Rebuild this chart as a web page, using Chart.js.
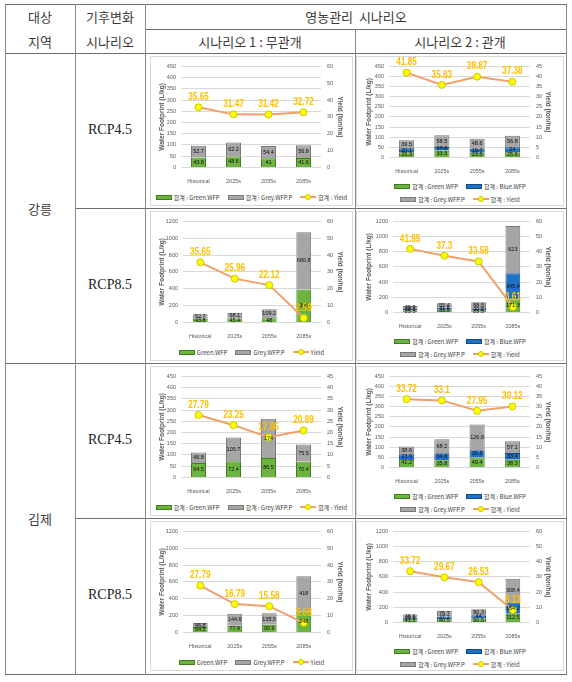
<!DOCTYPE html>
<html>
<head>
<meta charset="utf-8">
<script src="https://cdn.jsdelivr.net/npm/chart.js@4.4.0/dist/chart.umd.min.js"></script>
<style>
body{margin:0;background:#fff;font-family:"Noto Sans CJK KR",sans-serif;}
#page{position:relative;width:572px;height:682px;overflow:hidden;}
.hl{position:absolute;height:1px;background:#6e6e6e;}
.vl{position:absolute;width:1px;background:#8a8a8a;}
.t{position:absolute;transform:translate(-50%,-50%);white-space:nowrap;color:#3a3a3a;font-size:13px;line-height:1;}
.rcp{font-family:"Liberation Serif",serif;font-size:14px;color:#222;}
.box{position:absolute;border:1px solid #d9d9d9;box-sizing:border-box;background:#fff;}
.box canvas{position:absolute;left:0;top:0;}
.lg{position:absolute;left:0;right:0;height:8px;display:flex;justify-content:center;align-items:center;font-size:6px;color:#404040;white-space:nowrap;}
.lg .it{display:flex;align-items:center;margin:0 4px;}
.lg .sw{width:16px;height:5px;box-sizing:border-box;border:1px solid;margin-right:2px;}
.lg .ln{position:relative;width:16px;height:6px;margin-right:2px;}
.lg .ln:before{content:"";position:absolute;left:0;right:0;top:2px;height:2px;background:#f0a06a;}
.lg .ln:after{content:"";position:absolute;left:5px;top:0;width:6px;height:6px;border-radius:50%;background:#ffff00;border:0.5px solid #c8c800;box-sizing:border-box;}
</style>
</head>
<body>
<div id="page"></div>
<script>
const periods = ['Historical', '2025s', '2055s', '2085s'];

// 강릉 RCP4.5 무관개
const gn45DryGreen = [43.8, 48.6, 41, 41.6];
const gn45DryGrey = [52.7, 62.2, 54.4, 56.8];
const gn45DryYield = [35.65, 31.47, 31.42, 32.72];
// 강릉 RCP4.5 관개
const gn45IrrGreen = [25.3, 33.5, 23.5, 25.6];
const gn45IrrBlue = [20.1, 17.6, 19.7, 24];
const gn45IrrGrey = [39.5, 58.5, 48.6, 56.8];
const gn45IrrYield = [41.85, 35.83, 39.87, 37.38];
// 강릉 RCP8.5 무관개
const gn85DryGreen = [43.8, 45.4, 48, 390];
const gn85DryGrey = [52.7, 68.1, 109.2, 680.8];
const gn85DryYield = [35.65, 25.96, 22.12, 2.59];
// 강릉 RCP8.5 관개
const gn85IrrGreen = [25.3, 33.5, 25.5, 171.3];
const gn85IrrBlue = [20.1, 31.5, 20.5, 345.4];
const gn85IrrGrey = [39.5, 55.4, 88.5, 623];
const gn85IrrYield = [41.85, 37.3, 33.58, 3.61];
// 김제 RCP4.5 무관개
const gj45DryGreen = [64.5, 72.4, 86.5, 70.4];
const gj45DryGrey = [46.8, 105.7, 174, 75.5];
const gj45DryYield = [27.79, 23.25, 17.86, 20.89];
// 김제 RCP4.5 관개
const gj45IrrGreen = [41.2, 35.8, 49.4, 38.3];
const gj45IrrBlue = [23.6, 34.6, 35.6, 33.4];
const gj45IrrGrey = [38.6, 68.2, 126.8, 57.1];
const gj45IrrYield = [33.72, 33.1, 27.95, 30.12];
// 김제 RCP8.5 무관개
const gj85DryGreen = [64.5, 77.9, 90.9, 248];
const gj85DryGrey = [46.8, 144.6, 135.5, 418];
const gj85DryYield = [27.79, 16.79, 15.58, 5.68];
// 김제 RCP8.5 관개
const gj85IrrGreen = [41.2, 40.5, 50.5, 112.5];
const gj85IrrBlue = [23.6, 37.7, 44, 154.2];
const gj85IrrGrey = [38.6, 76.7, 80.3, 308.4];
const gj85IrrYield = [33.72, 29.67, 26.53, 8.13];

// axis ranges
const wfpSmall = { max: 450, step: 50 };
const wfpLarge = { max: 1200, step: 200 };
const yield45 = { max: 45, step: 5 };
const yield60 = { max: 60, step: 10 };

const page = document.getElementById('page');

function addDiv(cls, style, html) {
    const d = document.createElement('div');
    d.className = cls;
    Object.assign(d.style, style);
    if (html) d.innerHTML = html;
    page.appendChild(d);
    return d;
}

// table lines
const hLines = [[5, 566, 4], [145, 566, 29], [5, 566, 53], [75, 566, 208], [5, 566, 363], [75, 566, 518], [5, 566, 674]];
hLines.forEach(l => addDiv('hl', { left: l[0] + 'px', width: (l[1] - l[0] + 1) + 'px', top: l[2] + 'px' }));
const vLines = [[5, 4, 674], [75, 4, 674], [145, 4, 674], [355, 29, 674], [566, 4, 674]];
vLines.forEach(l => addDiv('vl', { left: l[0] + 'px', top: l[1] + 'px', height: (l[2] - l[1] + 1) + 'px' }));

// table text
function text(x, y, s, cls) {
    addDiv('t' + (cls ? ' ' + cls : ''), { left: x + 'px', top: y + 'px' }, s);
}
text(40, 16, '대상'); text(40, 41, '지역');
text(110, 16, '기후변화'); text(110, 41, '시나리오');
text(356, 16, '영농관리&nbsp;&nbsp;시나리오');
text(250, 41, '시나리오 1 : 무관개');
text(460, 41, '시나리오 2 : 관개');
text(40, 208, '강릉'); text(40, 518, '김제');
text(110, 130, 'RCP4.5', 'rcp'); text(110, 285, 'RCP8.5', 'rcp');
text(110, 440, 'RCP4.5', 'rcp'); text(110, 595, 'RCP8.5', 'rcp');

// data labels
const valueLabels = {
    id: 'valueLabels',
    afterDatasetsDraw(chart) {
        const ctx = chart.ctx;
        chart.data.datasets.forEach((ds, i) => {
            const meta = chart.getDatasetMeta(i);
            meta.data.forEach((el, j) => {
                const v = ds.data[j];
                ctx.save();
                ctx.textAlign = 'center';
                if (ds.type === 'line') {
                    ctx.font = 'bold 10px "Liberation Sans", sans-serif';
                    ctx.fillStyle = '#FFC000';
                    ctx.textBaseline = 'bottom';
                    ctx.translate(el.x, el.y - 5);
                    ctx.scale(0.82, 1);
                    ctx.fillText(v, 0, 0);
                } else {
                    ctx.font = '5.5px "Liberation Sans", sans-serif';
                    ctx.fillStyle = '#111';
                    ctx.textBaseline = 'middle';
                    ctx.fillText(v, el.x, (el.y + el.base) / 2);
                }
                ctx.restore();
            });
        });
    }
};

const tickFont = { size: 5.5, family: '"Liberation Sans", sans-serif' };
const titleFont = { size: 6.5, weight: 'bold', family: '"Liberation Sans", sans-serif' };

function barSet(label, data, color, border) {
    return {
        type: 'bar', label: label, data: data, yAxisID: 'y', order: 1,
        backgroundColor: color, borderColor: border, borderWidth: 1,
        barPercentage: 0.43, categoryPercentage: 1
    };
}

function makeChart(c) {
    const irr = !!c.blue;
    const boxW = irr ? 208 : 203;
    const box = addDiv('box', { left: (irr ? 356 : 150) + 'px', top: c.top + 'px', width: boxW + 'px', height: '150px' });
    const canvas = document.createElement('canvas');
    const ch = irr ? 121 : 131;
    canvas.width = boxW - 2; canvas.height = ch;
    canvas.style.width = (boxW - 2) + 'px'; canvas.style.height = ch + 'px';
    box.appendChild(canvas);

    const pre = c.prefix ? '합계 : ' : '';
    const datasets = [barSet(pre + 'Green.WFP', c.green, '#6db33f', '#3f7d1f')];
    if (irr) datasets.push(barSet(pre + 'Blue.WFP', c.blue, '#1f72c4', '#0f4a8a'));
    datasets.push(barSet(pre + 'Grey.WFP.P', c.grey, '#a6a6a6', '#7a7a7a'));
    datasets.push({
        type: 'line', label: pre + 'Yield', data: c.yield, yAxisID: 'y1', order: 0,
        borderColor: '#f0a06a', borderWidth: 2, pointRadius: 3.5,
        pointBackgroundColor: '#ffff00', pointBorderColor: '#c8c800', pointBorderWidth: 1
    });

    new Chart(canvas, {
        data: { labels: periods, datasets: datasets },
        options: {
            responsive: false, animation: false,
            layout: { padding: { left: c.padL, right: c.padR, top: 3, bottom: 0 } },
            plugins: { legend: { display: false }, tooltip: { enabled: false } },
            scales: {
                x: {
                    stacked: true,
                    grid: { display: false },
                    border: { display: false },
                    ticks: { font: tickFont, color: '#595959', padding: 3, maxRotation: 0 }
                },
                y: {
                    stacked: true, position: 'left', min: 0, max: c.wfp.max,
                    ticks: { stepSize: c.wfp.step, font: tickFont, color: '#595959', padding: 5, autoSkip: false, callback: v => String(v) },
                    grid: { color: '#d9d9d9', drawTicks: false },
                    border: { display: false },
                    title: { display: true, text: 'Water Footprint (L/kg)', font: titleFont, color: '#595959', padding: 0 },
                    afterFit(s) { s.width = c.leftW; }
                },
                y1: {
                    position: 'right', min: 0, max: c.yld.max,
                    ticks: { stepSize: c.yld.step, font: tickFont, color: '#595959', padding: 6, autoSkip: false, callback: v => String(v) },
                    grid: { display: false, drawTicks: false },
                    border: { display: false },
                    title: { display: true, text: 'Yield (ton/ha)', font: titleFont, color: '#595959', padding: 0 },
                    afterFit(s) { s.width = c.rightW; }
                }
            }
        },
        plugins: [valueLabels]
    });

    // legend
    const sw = (pfx, name, col, bor) => '<span class="it"><span class="sw" style="background:' + col + ';border-color:' + bor + '"></span>' + pfx + name + '</span>';
    const ln = pfx => '<span class="it"><span class="ln"></span>' + pfx + 'Yield</span>';
    const pfx = c.prefix ? '합계 : ' : '';
    if (irr) {
        const r1 = document.createElement('div');
        r1.className = 'lg'; r1.style.top = '125px';
        r1.innerHTML = sw(pfx, 'Green.WFP', '#6db33f', '#3f7d1f') + sw(pfx, 'Blue.WFP', '#1f72c4', '#0f4a8a');
        box.appendChild(r1);
        const r2 = document.createElement('div');
        r2.className = 'lg'; r2.style.top = '138px';
        r2.innerHTML = sw(pfx, 'Grey.WFP.P', '#a6a6a6', '#7a7a7a') + ln(pfx);
        box.appendChild(r2);
    } else {
        const r = document.createElement('div');
        r.className = 'lg'; r.style.top = '136px';
        r.innerHTML = sw(pfx, 'Green.WFP', '#6db33f', '#3f7d1f') + sw(pfx, 'Grey.WFP.P', '#a6a6a6', '#7a7a7a') + ln(pfx);
        box.appendChild(r);
    }
}

const rowTop = [56, 211, 366, 521];

makeChart({ top: rowTop[0], green: gn45DryGreen, grey: gn45DryGrey, yield: gn45DryYield, wfp: wfpSmall, yld: yield60, leftW: 23, rightW: 23, padL: 7, padR: 8, prefix: true });
makeChart({ top: rowTop[0], green: gn45IrrGreen, blue: gn45IrrBlue, grey: gn45IrrGrey, yield: gn45IrrYield, wfp: wfpSmall, yld: yield45, leftW: 24, rightW: 22, padL: 8, padR: 11, prefix: true });
makeChart({ top: rowTop[1], green: gn85DryGreen, grey: gn85DryGrey, yield: gn85DryYield, wfp: wfpLarge, yld: yield60, leftW: 25, rightW: 23, padL: 7, padR: 8, prefix: false });
makeChart({ top: rowTop[1], green: gn85IrrGreen, blue: gn85IrrBlue, grey: gn85IrrGrey, yield: gn85IrrYield, wfp: wfpLarge, yld: yield60, leftW: 28, rightW: 22, padL: 8, padR: 11, prefix: true });
makeChart({ top: rowTop[2], green: gj45DryGreen, grey: gj45DryGrey, yield: gj45DryYield, wfp: wfpSmall, yld: yield45, leftW: 23, rightW: 23, padL: 7, padR: 8, prefix: true });
makeChart({ top: rowTop[2], green: gj45IrrGreen, blue: gj45IrrBlue, grey: gj45IrrGrey, yield: gj45IrrYield, wfp: wfpSmall, yld: yield45, leftW: 24, rightW: 22, padL: 8, padR: 11, prefix: true });
makeChart({ top: rowTop[3], green: gj85DryGreen, grey: gj85DryGrey, yield: gj85DryYield, wfp: wfpLarge, yld: yield60, leftW: 25, rightW: 23, padL: 7, padR: 8, prefix: false });
makeChart({ top: rowTop[3], green: gj85IrrGreen, blue: gj85IrrBlue, grey: gj85IrrGrey, yield: gj85IrrYield, wfp: wfpLarge, yld: yield60, leftW: 28, rightW: 22, padL: 8, padR: 11, prefix: true });
</script>
</body>
</html>
